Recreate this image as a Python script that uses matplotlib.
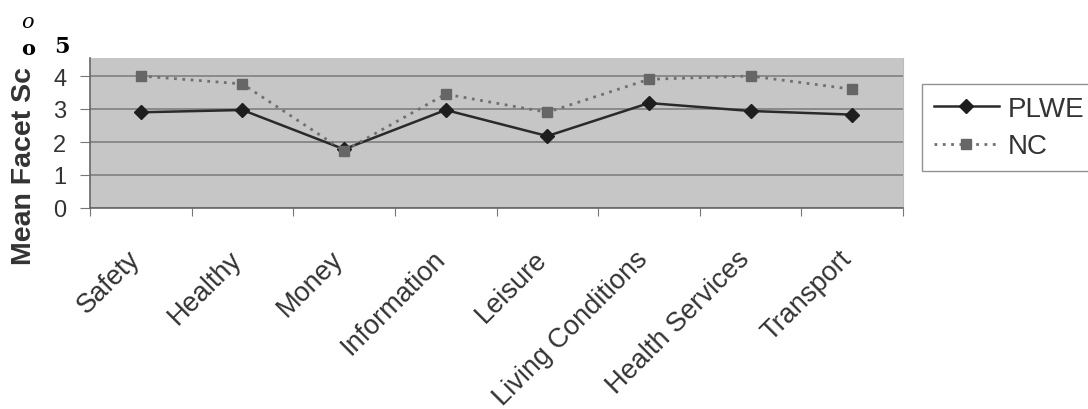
import matplotlib
matplotlib.use('Agg')
import matplotlib.pyplot as plt
import matplotlib.transforms as mtransforms
import numpy as np

categories = ['Safety', 'Healthy', 'Money', 'Information', 'Leisure',
              'Living Conditions', 'Health Services', 'Transport']
plwe = [2.9, 2.97, 1.78, 2.97, 2.18, 3.18, 2.94, 2.83]
nc = [4.0, 3.76, 1.73, 3.45, 2.9, 3.9, 4.0, 3.6]
y_ticks = [0, 1, 2, 3, 4]

plt.rcParams['font.family'] = ['Liberation Sans', 'DejaVu Sans']

W, H = 1088, 410
fig = plt.figure(figsize=(W / 100, H / 100), dpi=100)
# plot area in pixels: x 90..903, y 59..209
ax = fig.add_axes([90 / W, (H - 209) / H, 813 / W, 150 / H])
ax.set_facecolor('#c6c6c6')

x = np.arange(len(categories))
ax.plot(x, plwe, color='#2a2a2a', lw=1.8, marker='D', ms=7.5,
        markerfacecolor='#1e1e1e', markeredgecolor='#1e1e1e', label='PLWE')
ax.plot(x, nc, color='#707070', lw=2.0, ls=(0, (1.0, 2.0)), marker='s', ms=7.5,
        markerfacecolor='#666666', markeredgecolor='#666666', label='NC')

ax.set_xlim(-0.5, len(categories) - 0.5)
ax.set_ylim(0, 150 / 33)
ax.set_yticks(y_ticks)
ax.set_yticklabels([str(t) for t in y_ticks], fontsize=17, color='#333333')
ax.yaxis.grid(True, color='#7a7a7a', lw=1.1)
ax.set_axisbelow(True)

ax.set_xticks(np.arange(len(categories) + 1) - 0.5)
ax.set_xticklabels([])
ax.set_xticks(x, minor=True)
ax.set_xticklabels(categories, minor=True, rotation=45, ha='right',
                   rotation_mode='anchor', fontsize=19.5, color='#333333')
ax.tick_params(axis='x', which='minor', length=0, pad=27)
ax.tick_params(axis='x', which='major', length=6, color='#777777')
ax.tick_params(axis='y', length=7, color='#777777', pad=10)

# nudge the rotated labels left so their ends sit under the points
shift = mtransforms.ScaledTranslation(-14 / 100, 0, fig.dpi_scale_trans)
for lab in ax.get_xticklabels(minor=True):
    lab.set_transform(lab.get_transform() + shift)

ax.spines['top'].set_visible(False)
ax.spines['right'].set_color('#bbbbbb')
ax.spines['left'].set_color('#666666')
ax.spines['bottom'].set_color('#666666')
ax.spines['left'].set_linewidth(1.2)
ax.spines['bottom'].set_linewidth(1.2)

leg = ax.legend(loc='upper left', bbox_to_anchor=(922 / W, 1 - 85 / H),
                bbox_transform=fig.transFigure, fontsize=20, frameon=True,
                fancybox=False, edgecolor='#777777', handlelength=2.35,
                borderpad=0.42, labelspacing=0.42, handletextpad=0.3,
                borderaxespad=0)
leg.get_frame().set_linewidth(1.0)
for t in leg.get_texts():
    t.set_color('#333333')

fig.text(24 / W, 1 - 166 / H, 'Mean Facet Sc', rotation=90, ha='center',
         va='center', fontsize=20.5, fontweight='bold', color='#333333')
fig.text(27 / W, 1 - 22 / H, 'o', family='DejaVu Serif', style='italic',
         fontsize=15, ha='center', va='center')
fig.text(28 / W, 1 - 49 / H, 'o', family='DejaVu Serif', fontweight='bold',
         fontsize=15, ha='center', va='center')
fig.text(62 / W, 1 - 47 / H, '5', family='DejaVu Serif', fontweight='bold',
         fontsize=16, ha='center', va='center')

fig.savefig('out.png', dpi=100)
